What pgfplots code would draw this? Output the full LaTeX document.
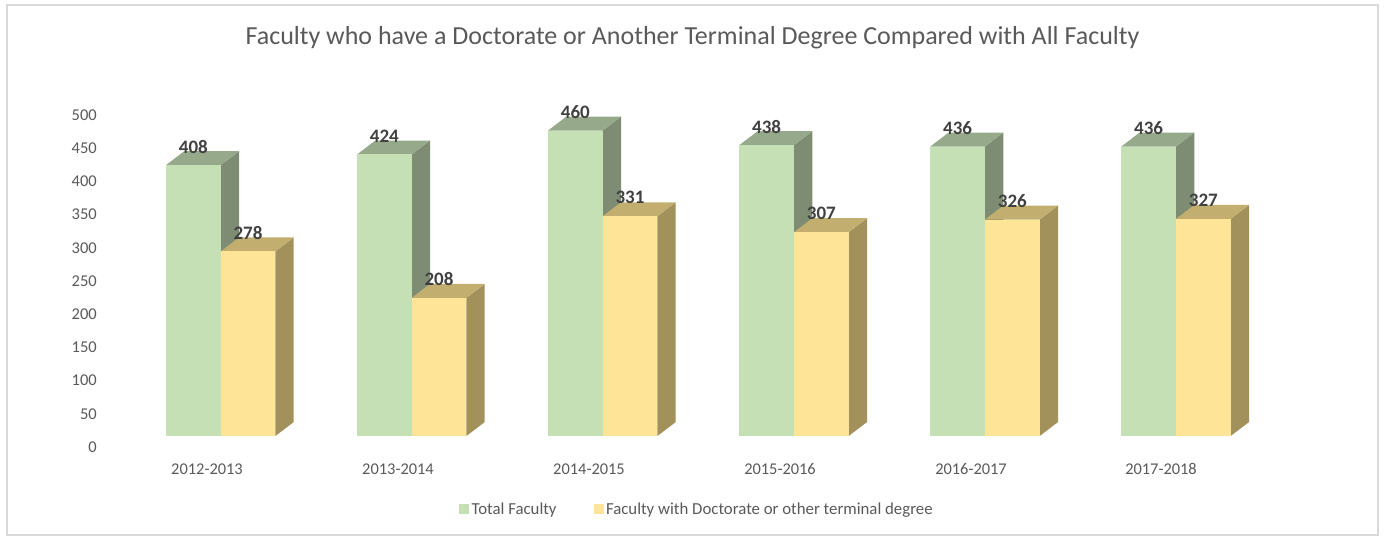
\documentclass[border=0pt]{standalone}
\usepackage{fontspec}
\setmainfont{Carlito}
\usepackage{pgfplots}
\pgfplotsset{compat=1.18}
\definecolor{gf}{HTML}{C5E0B4}
\definecolor{gs}{HTML}{7D8C72}
\definecolor{gt}{HTML}{96A98A}
\definecolor{yf}{HTML}{FEE496}
\definecolor{ys}{HTML}{A3915C}
\definecolor{yt}{HTML}{C2AF70}
\definecolor{txt}{HTML}{595959}
\definecolor{lbl}{HTML}{404040}
\definecolor{frm}{HTML}{D9D9D9}
% x = left edge of the face, v = value; depth is 18.3 px across and 21 units up
\newcommand\sideTop[4]{%
  \addplot[fill=#3,draw=none,forget plot] coordinates {({#1+54.7},0) ({#1+73},21) ({#1+73},{#2+21}) ({#1+54.7},#2)} --cycle;
  \addplot[fill=#4,draw=none,forget plot] coordinates {(#1,#2) ({#1+18.3},{#2+21}) ({#1+73},{#2+21}) ({#1+54.7},#2)} --cycle;
}
\begin{document}
\begin{tikzpicture}[x=1pt,y=1pt]
\path[use as bounding box] (0,0) rectangle (1384,536);
\draw[frm,line width=1.5pt] (7,1) rectangle (1378,531);
\node[text=txt,font=\fontsize{26}{30}\selectfont,anchor=center] at (692.5,498.5) {Faculty who have a Doctorate or Another Terminal Degree Compared with All Faculty};
\begin{axis}[
  at={(100pt,100pt)},anchor=south west,
  scale only axis,width=1190pt,height=332pt,
  xmin=100,xmax=1290,ymin=0,ymax=500,clip=false,
  axis line style={draw=none},major tick length=0pt,
  ytick={0,50,...,500},
  xtick={207,398,589,780,971,1161},
  xticklabels={2012-2013,2013-2014,2014-2015,2015-2016,2016-2017,2017-2018},
  /pgf/number format/assume math mode=true,
  yticklabel style={text=txt,font=\fontsize{16.5}{20}\selectfont,anchor=east,inner sep=0pt,xshift=-3pt,yshift=-11pt},
  xticklabel style={text=txt,font=\fontsize{16.4}{18}\selectfont,anchor=center,yshift=-33pt},
  legend columns=2,
  legend style={at={(axis cs:459,-110)},anchor=west,draw=none,fill=none,inner sep=0pt,font=\fontsize{16.8}{18}\selectfont,text=txt,
    /tikz/every even column/.style={column sep=35pt},
    /tikz/every odd column/.style={column sep=1pt}},
  legend image code/.code={\fill[#1] (0pt,-4.5pt) rectangle (9pt,4.5pt);},
]
\addlegendimage{gf}\addlegendentry{Total Faculty}
\addlegendimage{yf}\addlegendentry{Faculty with Doctorate or other terminal degree}
% 3-D faces and fronts, one bar pair per year, back to front
\sideTop{166}{408}{gs}{gt}
\addplot[ybar,bar width=54.7pt,bar shift=0pt,fill=gf,draw=none,forget plot] coordinates {(193.35,408)};
\sideTop{220.7}{278}{ys}{yt}
\addplot[ybar,bar width=54.7pt,bar shift=0pt,fill=yf,draw=none,forget plot] coordinates {(248.05,278)};
\sideTop{357}{424}{gs}{gt}
\addplot[ybar,bar width=54.7pt,bar shift=0pt,fill=gf,draw=none,forget plot] coordinates {(384.35,424)};
\sideTop{411.7}{208}{ys}{yt}
\addplot[ybar,bar width=54.7pt,bar shift=0pt,fill=yf,draw=none,forget plot] coordinates {(439.05,208)};
\sideTop{548}{460}{gs}{gt}
\addplot[ybar,bar width=54.7pt,bar shift=0pt,fill=gf,draw=none,forget plot] coordinates {(575.35,460)};
\sideTop{602.7}{331}{ys}{yt}
\addplot[ybar,bar width=54.7pt,bar shift=0pt,fill=yf,draw=none,forget plot] coordinates {(630.05,331)};
\sideTop{739.3}{438}{gs}{gt}
\addplot[ybar,bar width=54.7pt,bar shift=0pt,fill=gf,draw=none,forget plot] coordinates {(766.65,438)};
\sideTop{794}{307}{ys}{yt}
\addplot[ybar,bar width=54.7pt,bar shift=0pt,fill=yf,draw=none,forget plot] coordinates {(821.35,307)};
\sideTop{930.3}{436}{gs}{gt}
\addplot[ybar,bar width=54.7pt,bar shift=0pt,fill=gf,draw=none,forget plot] coordinates {(957.65,436)};
\sideTop{985}{326}{ys}{yt}
\addplot[ybar,bar width=54.7pt,bar shift=0pt,fill=yf,draw=none,forget plot] coordinates {(1012.35,326)};
\sideTop{1121.3}{436}{gs}{gt}
\addplot[ybar,bar width=54.7pt,bar shift=0pt,fill=gf,draw=none,forget plot] coordinates {(1148.65,436)};
\sideTop{1176}{327}{ys}{yt}
\addplot[ybar,bar width=54.7pt,bar shift=0pt,fill=yf,draw=none,forget plot] coordinates {(1203.35,327)};
% value labels, on top of every face
\addplot[only marks,mark=none,forget plot,nodes near coords,
  every node near coord/.append style={anchor=center,yshift=18.5pt,text=lbl,font=\fontsize{19}{22}\selectfont\bfseries,inner sep=0pt}]
  coordinates {(193.35,408)(248.05,278)(384.35,424)(439.05,208)(575.35,460)(630.05,331)(766.65,438)(821.35,307)(957.65,436)(1012.35,326)(1148.65,436)(1203.35,327)};
\end{axis}
\end{tikzpicture}
\end{document}
